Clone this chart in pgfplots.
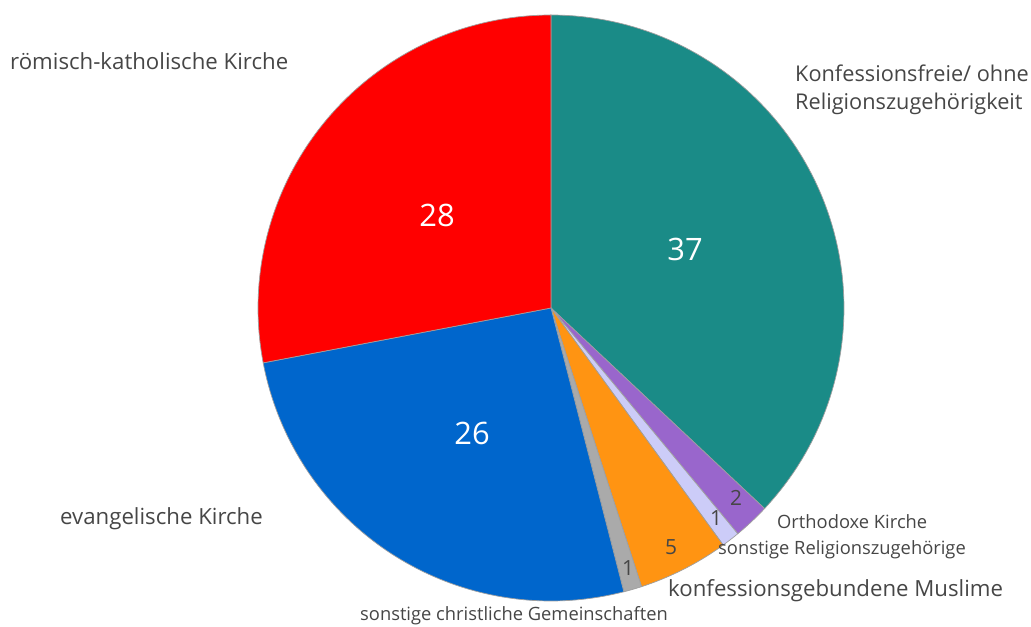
\documentclass[border=0pt]{standalone}
\usepackage{fontspec}
\setmainfont{Open Sans}
\usepackage{pgfplots}
\pgfplotsset{compat=1.18}
\definecolor{cteal}{RGB}{26,139,135}
\definecolor{cpurple}{RGB}{153,102,204}
\definecolor{clav}{RGB}{204,204,248}
\definecolor{corange}{RGB}{255,148,18}
\definecolor{cgray}{RGB}{170,170,170}
\definecolor{cblue}{RGB}{0,102,204}
\definecolor{cred}{RGB}{255,0,0}
\definecolor{txt}{RGB}{70,70,70}
% pie centre and radius (in axis units = px)
\def\cx{551}\def\cy{318}\def\rr{293}
% slice: colour, cumulative start (%), cumulative end (%)
\newcommand{\slice}[3]{%
  \addplot[fill=#1, draw=gray!75, line width=0.7pt, domain={90-3.6*(#3)}:{90-3.6*(#2)}, samples=90, variable=\t, mark=none]
    ({\cx+\rr*cos(\t)},{\cy+\rr*sin(\t)}) -- (axis cs:\cx,\cy) -- cycle;}
\begin{document}
\begin{tikzpicture}
\begin{axis}[scale only axis, width=1031bp, height=626bp,
  xmin=0, xmax=1031, ymin=0, ymax=626, hide axis, clip=false]
\path (rel axis cs:0,0) rectangle (rel axis cs:1,1);
% values: 37, 2, 1, 5, 1, 26, 28 (clockwise from top)
\slice{cteal}{0}{37}
\slice{cpurple}{37}{37+2}
\slice{clav}{37+2}{37+2+1}
\slice{corange}{37+2+1}{37+2+1+5}
\slice{cgray}{37+2+1+5}{37+2+1+5+1}
\slice{cblue}{37+2+1+5+1}{37+2+1+5+1+26}
\slice{cred}{37+2+1+5+1+26}{100}
% value labels
\begin{scope}[every node/.style={inner sep=0pt}]
\node[white, font=\fontsize{31}{36}\selectfont] at (axis cs:685,377) {37};
\node[white, font=\fontsize{31}{36}\selectfont] at (axis cs:437,411) {28};
\node[white, font=\fontsize{31}{36}\selectfont] at (axis cs:472,193) {26};
\node[txt, font=\fontsize{21}{24}\selectfont] at (axis cs:736,128) {2};
\node[txt, font=\fontsize{21}{24}\selectfont] at (axis cs:716,108) {1};
\node[txt, font=\fontsize{21}{24}\selectfont] at (axis cs:671,79) {5};
\node[txt, font=\fontsize{21}{24}\selectfont] at (axis cs:628,58) {1};
% category labels
\node[txt, anchor=west, font=\fontsize{22.3}{26}\selectfont] at (axis cs:10,565) {römisch-katholische Kirche};
\node[txt, anchor=west, font=\fontsize{21.8}{26}\selectfont] at (axis cs:795,553) {Konfessionsfreie/ ohne};
\node[txt, anchor=west, font=\fontsize{21.8}{26}\selectfont] at (axis cs:795,522) {Religionszugehörigkeit};
\node[txt, anchor=west, font=\fontsize{22.3}{26}\selectfont] at (axis cs:60,107) {evangelische Kirche};
\node[txt, anchor=west, font=\fontsize{18.4}{22}\selectfont] at (axis cs:777,104) {Orthodoxe Kirche};
\node[txt, anchor=west, font=\fontsize{18.4}{22}\selectfont] at (axis cs:718,76) {sonstige Religionszugehörige};
\node[txt, anchor=west, font=\fontsize{22.3}{26}\selectfont] at (axis cs:668,35) {konfessionsgebundene Muslime};
\node[txt, anchor=west, font=\fontsize{18.4}{22}\selectfont] at (axis cs:360,10) {sonstige christliche Gemeinschaften};
\end{scope}
\end{axis}
\end{tikzpicture}
\end{document}
